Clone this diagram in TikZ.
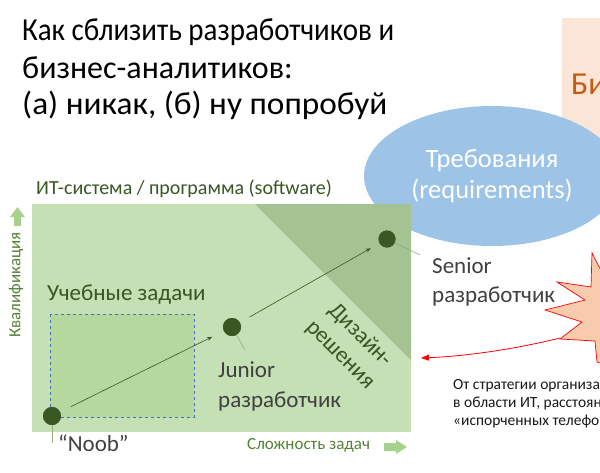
\documentclass[tikz,border=0pt]{standalone}
\usepackage{fontspec}
\setmainfont{Carlito}
\usetikzlibrary{arrows.meta,shapes.geometric}
\definecolor{lgreen}{HTML}{C5E0B4}
\definecolor{dgreen}{HTML}{385723}
\definecolor{mgreen}{HTML}{548235}
\definecolor{agreen}{HTML}{A9D18E}
\definecolor{hatchg}{HTML}{A4C292}
\definecolor{boxg}{HTML}{B4D89E}
\definecolor{dblue}{HTML}{4472C4}
\definecolor{ellb}{HTML}{9DC3E6}
\definecolor{peach}{HTML}{FBE5D6}
\definecolor{orng}{HTML}{C55A11}
\definecolor{starf}{HTML}{F8CBAD}
\definecolor{txtg}{HTML}{404040}
\definecolor{calg}{HTML}{8FAE80}
\tikzset{
  title/.style={anchor=base west, inner sep=0, font=\fontsize{32}{38}\selectfont},
  lbl/.style={anchor=base west, inner sep=0, text=txtg, font=\fontsize{23}{27}\selectfont},
  gtxt/.style={inner sep=0, text=dgreen},
  dot/.style={circle, fill=dgreen, minimum size=18pt, inner sep=0},
  prog/.style={draw=dgreen, line width=0.6pt, -{Stealth[length=5pt,width=4pt]}},
  callout/.style={draw=calg, line width=0.6pt},
  note/.style={anchor=base west, inner sep=0, text=black!90, font=\fontsize{15.5}{18}\selectfont},
}
\begin{document}
\begin{tikzpicture}[x=1pt,y=-1pt]
\useasboundingbox (0,0) rectangle (600,472);
\clip (0,0) rectangle (600,472);
% title
\node[title, xscale=0.905] (t1) at (22,40) {Как сблизить разработчиков и};
\node[title] (t2) at (22,78) {бизнес-аналитиков:};
\node[title, xscale=1.04] (t3) at (22,114) {(а) никак, (б) ну попробуй};
% business box
\fill[peach] (562,18) rectangle (620,150);
\node[anchor=base west, inner sep=0, text=orng, font=\fontsize{32}{38}\selectfont] (biz) at (571,94) {Би};
% requirements ellipse
\node[ellipse, fill=ellb, minimum width=256pt, minimum height=140pt, inner sep=0,
      text=white, align=center, font=\fontsize{26.5}{31}\selectfont] (req) at (492,176)
      {Требования\\(requirements)};
% main area
\fill[lgreen] (32,204) rectangle (411,432);
\fill[hatchg] (255,204) -- (411,204) -- (411,360) -- cycle;
\filldraw[fill=boxg, draw=dblue, dashed, line width=0.8pt] (50,314) rectangle (194,417);
\node[gtxt, anchor=base west, font=\fontsize{20}{24}\selectfont] (sys) at (36,194) {ИТ-система / программа (software)};
\node[gtxt, anchor=base west, font=\fontsize{23}{27}\selectfont] (learn) at (47,300) {Учебные задачи};
\node[gtxt, rotate=-45, align=center, font=\fontsize{23}{28}\selectfont] (design) at (350,345) {Дизайн-\\решения};
% axes
\fill[agreen] (17.5,207) -- (25,217) -- (21,217) -- (21,226) -- (14,226) -- (14,217) -- (10,217) -- cycle;
\node[inner sep=0, text=mgreen, rotate=90, font=\fontsize{17}{20}\selectfont] (qual) at (16,285) {Квалификация};
\fill[agreen] (407,447) -- (396,440) -- (396,443) -- (384,443) -- (384,451) -- (396,451) -- (396,454) -- cycle;
\node[anchor=base west, inner sep=0, text=mgreen, font=\fontsize{17}{20}\selectfont] (cmplx) at (247,449) {Сложность задач};
% dots
\node[dot] (noob) at (52,416) {};
\node[dot] (junior) at (232,327) {};
\node[dot, minimum size=17pt] (senior) at (387,239) {};
\draw[prog, shorten <=12pt, shorten >=13pt] (noob) -- (junior);
\draw[prog, shorten <=11pt, shorten >=10pt] (junior) -- (senior);
% callouts
\coordinate (cn) at (52,443);
\coordinate (cj) at (245,350);
\coordinate (cs) at (420,255);
\draw[callout] (noob.center) -- (cn);
\draw[callout] (junior.center) -- (cj);
\draw[callout] (senior.center) -- (cs);
\node[dot] at (noob) {};
\node[dot] at (junior) {};
\node[dot, minimum size=17pt] at (senior) {};
\node[lbl] (ln) at (58,451) {“Noob”};
\node[lbl] (lj1) at (218,377) {Junior};
\node[lbl] (lj2) at (218,407) {разработчик};
\node[lbl] (ls1) at (432,273) {Senior};
\node[lbl] (ls2) at (432,302) {разработчик};
% star
\filldraw[fill=starf, draw=red, line width=0.7pt] (592,253) -- (606,280) -- (620,280) -- (620,370) -- (597,362) -- (595,341) -- (560,339) -- (582,322) -- (545,310) -- (585,300) -- (557,282) -- (591,287) -- cycle;
\coordinate (sarr) at (560,338);
\coordinate (earr) at (421,358);
\draw[red, line width=0.8pt, -{Triangle[length=8pt,width=6pt]}] (sarr) .. controls (520,348) and (470,356) .. (earr);
% note
\node[note] (n1) at (453,389) {От стратегии организа};
\node[note] (n2) at (453,407) {в области ИТ, расстоян};
\node[note] (n3) at (453,425) {«испорченных телефо};
\end{tikzpicture}
\end{document}
